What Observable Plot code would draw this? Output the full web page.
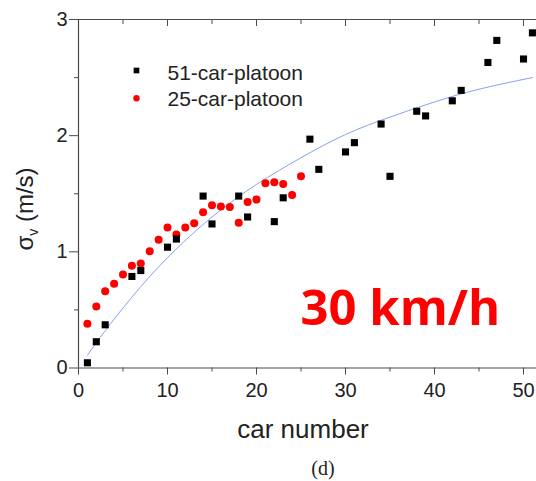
<!DOCTYPE html>
<html>
<head>
<meta charset="utf-8">
<script src="https://cdn.jsdelivr.net/npm/d3@7"></script>
<script src="https://cdn.jsdelivr.net/npm/@observablehq/plot@0.6"></script>
<style>
  html, body { margin: 0; padding: 0; background: #fff; }
  #chart svg { display: block; }
</style>
</head>
<body>
<div id="chart"></div>
<script>
// 51-car-platoon (black squares)
const car51 = [1,2,3,6,7,10,11,14,15,18,19,22,23,26,27,30,31,34,35,38,39,42,43,46,47,50,51];
const sigma51 = [0.045,0.226,0.372,0.788,0.839,1.04,1.11,1.48,1.24,1.48,1.30,1.26,1.465,1.97,1.71,1.86,1.94,2.10,1.65,2.21,2.17,2.30,2.39,2.63,2.82,2.66,2.885];
// 25-car-platoon (red circles)
const car25 = [1,2,3,4,5,6,7,8,9,10,11,12,13,14,15,16,17,18,19,20,21,22,23,24,25];
const sigma25 = [0.38,0.53,0.66,0.725,0.805,0.88,0.90,1.005,1.105,1.21,1.15,1.21,1.245,1.34,1.40,1.39,1.385,1.25,1.43,1.45,1.59,1.60,1.585,1.49,1.65];
// fitted curve (blue), read at sample points
const fitX = [1,3,6,10,15,20,25,30,35,40,45,51];
const fitY = [0.11,0.32,0.61,0.95,1.30,1.58,1.81,2.01,2.16,2.29,2.40,2.50];
// ticks
const xMajor = [0,10,20,30,40,50];
const xMinor = [5,15,25,35,45];
const yMajor = [0,1,2,3];
const yMinor = [0.5,1.5,2.5];
const seriesNames = ["51-car-platoon","25-car-platoon"];
const xLabel = "car number";
const panelLabel = "(d)";
const speedLabel = "30 km/h";

const d51 = car51.map((x,i) => ({x, y: sigma51[i]}));
const d25 = car25.map((x,i) => ({x, y: sigma25[i]}));
const fit = fitX.map((x,i) => ({x, y: fitY[i]}));

const axisColor = "#4a4a4a";
const textColor = "#222";

const chart = Plot.plot({
  width: 536,
  height: 481,
  marginLeft: 78,
  marginRight: 0,
  marginTop: 19,
  marginBottom: 113.5,
  x: {domain: [0, 51.46]},
  y: {domain: [0, 3]},
  style: {fontFamily: "'Liberation Sans', Arial, sans-serif", background: "#fff", color: textColor},
  marks: [
    // axis lines
    Plot.ruleY([0, 3], {stroke: axisColor, strokeWidth: 1.2}),
    Plot.ruleX([0], {stroke: axisColor, strokeWidth: 1.2}),
    // bottom axis
    Plot.axisX({ticks: xMajor, tickFormat: d => String(d), tickSize: 7, tickPadding: 8, fontSize: 20, stroke: axisColor, fill: textColor, label: null}),
    Plot.axisX({ticks: xMinor, tickSize: 4, stroke: axisColor, fill: "none", label: null}),
    // top axis (inward ticks)
    Plot.axisX({anchor: "top", ticks: xMajor, tickSize: 6, dy: 6, stroke: axisColor, fill: "none", label: null}),
    Plot.axisX({anchor: "top", ticks: xMinor, tickSize: 4, dy: 4, stroke: axisColor, fill: "none", label: null}),
    // left axis
    Plot.axisY({ticks: yMajor, tickFormat: d => String(d), tickSize: 9, tickPadding: 2, fontSize: 20, stroke: axisColor, fill: textColor, label: null}),
    Plot.axisY({ticks: yMinor, tickSize: 4, stroke: axisColor, fill: "none", label: null}),
    // fitted curve
    Plot.line(fit, {x: "x", y: "y", stroke: "#86a0f4", strokeWidth: 1, curve: "natural"}),
    // data
    Plot.dot(d25, {x: "x", y: "y", r: 4, fill: "#ff0000", stroke: "none"}),
    Plot.dot(d51, {x: "x", y: "y", r: 4, symbol: "square", fill: "#000", stroke: "none"}),
    // legend
    Plot.dot([seriesNames[0]], {frameAnchor: "top-left", dx: 58, dy: 51, r: 3.2, symbol: "square", fill: "#000", stroke: "none"}),
    Plot.dot([seriesNames[1]], {frameAnchor: "top-left", dx: 58, dy: 78.7, r: 3.2, fill: "#ff0000", stroke: "none"}),
    Plot.text([seriesNames[0]], {frameAnchor: "top-left", lineAnchor: "middle", dx: 89, dy: 53.4, text: d => d, textAnchor: "start", fontSize: 21, fill: textColor}),
    Plot.text([seriesNames[1]], {frameAnchor: "top-left", lineAnchor: "middle", dx: 89, dy: 80.1, text: d => d, textAnchor: "start", fontSize: 21, fill: textColor}),
    // speed annotation
    Plot.text([speedLabel], {frameAnchor: "top-left", lineAnchor: "middle", dx: 222, dy: 290.3, text: d => d, textAnchor: "start", fontSize: 49, fontWeight: "bold", fontFamily: "'Open Sans', sans-serif", fill: "#ff0000"}),
    // x label and panel label
    Plot.text([xLabel], {frameAnchor: "bottom", lineAnchor: "middle", dx: -4.5, dy: 62, text: d => d, fontSize: 26, fill: textColor}),
    Plot.text([panelLabel], {frameAnchor: "bottom", lineAnchor: "middle", dx: 15.5, dy: 100.5, text: d => d, fontSize: 20, fontFamily: "'Liberation Serif', serif", fill: textColor})
  ]
});

document.getElementById("chart").appendChild(chart);

// y-axis label with subscript
const svg = d3.select(chart);
const yl = svg.append("text")
  .attr("transform", "translate(33,209) rotate(-90)")
  .attr("text-anchor", "middle")
  .attr("fill", textColor)
  .attr("font-family", "'Liberation Sans', Arial, sans-serif")
  .attr("font-size", 24);
yl.append("tspan").text("σ");
yl.append("tspan").attr("font-size", 14).attr("dy", 5).text("v");
yl.append("tspan").attr("dy", -5).text(" (m/s)");
</script>
</body>
</html>
